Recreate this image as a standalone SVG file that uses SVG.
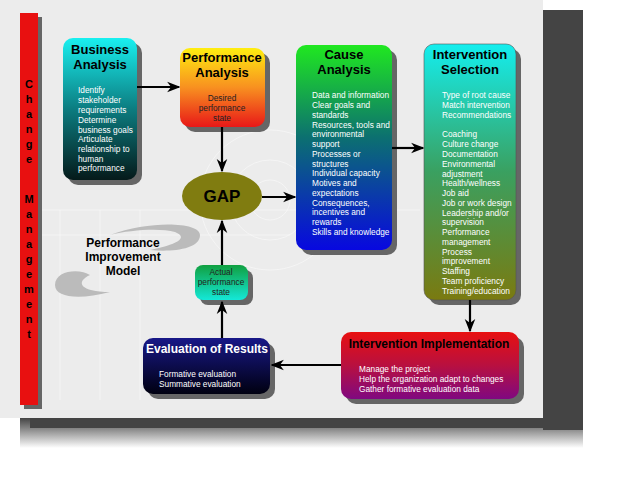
<svg xmlns="http://www.w3.org/2000/svg" width="622" height="480" viewBox="0 0 622 480">
<defs>
<linearGradient id="gBA" x1="0" y1="0" x2="0" y2="1"><stop offset="0" stop-color="#19f0f0"/><stop offset="0.5" stop-color="#0c7c80"/><stop offset="1" stop-color="#051a1a"/></linearGradient>
<linearGradient id="gPA" x1="0" y1="0" x2="0" y2="1"><stop offset="0" stop-color="#ffee10"/><stop offset="0.5" stop-color="#f89020"/><stop offset="1" stop-color="#e81818"/></linearGradient>
<linearGradient id="gCA" x1="0" y1="0" x2="0" y2="1"><stop offset="0" stop-color="#20e820"/><stop offset="0.45" stop-color="#0c7070"/><stop offset="1" stop-color="#0808e0"/></linearGradient>
<linearGradient id="gIS" x1="0" y1="0" x2="0" y2="1"><stop offset="0" stop-color="#14eeee"/><stop offset="0.5" stop-color="#3aa060"/><stop offset="1" stop-color="#7a7a10"/></linearGradient>
<linearGradient id="gII" x1="0" y1="0" x2="0" y2="1"><stop offset="0" stop-color="#e81010"/><stop offset="0.5" stop-color="#b81040"/><stop offset="1" stop-color="#800880"/></linearGradient>
<linearGradient id="gER" x1="0" y1="0" x2="0" y2="1"><stop offset="0" stop-color="#181888"/><stop offset="1" stop-color="#000010"/></linearGradient>
<linearGradient id="gAP" x1="0" y1="0" x2="0" y2="1"><stop offset="0" stop-color="#10a040"/><stop offset="1" stop-color="#14e8d8"/></linearGradient>
<linearGradient id="gShB" x1="0" y1="0" x2="0" y2="1"><stop offset="0" stop-color="#444"/><stop offset="1" stop-color="#444" stop-opacity="0"/></linearGradient>
<marker id="ar" viewBox="0 0 10 10" refX="9" refY="5" markerWidth="6" markerHeight="6" orient="auto"><path d="M0,1 L10,5 L0,9 L3,5 z" fill="#000"/></marker>
</defs>
<style>
.t{font-family:"Liberation Sans",Arial,sans-serif;font-weight:bold;fill:#000;text-anchor:middle}
.b{font-family:"Liberation Sans",Arial,sans-serif;font-size:8.3px;fill:#fff}
.bd{font-family:"Liberation Sans",Arial,sans-serif;font-size:8.3px;fill:#222;text-anchor:middle}
.sh{fill:#666}
.c{stroke:#000;stroke-width:2.2;fill:none;marker-end:url(#ar)}
.cm{font-family:"Liberation Sans",Arial,sans-serif;font-weight:bold;font-size:11px;fill:#000;text-anchor:middle}
</style>
<rect width="622" height="480" fill="#fff"/>
<rect x="543" y="10" width="40" height="420" fill="#444"/>
<rect x="20" y="418" width="563" height="30" fill="url(#gShB)"/>
<rect x="30" y="418" width="553" height="10" fill="#444"/>
<rect x="0" y="0" width="543" height="418" fill="#ececec"/>
<g stroke="#fff" stroke-width="0.8" fill="none" opacity="0.6">
<circle cx="270" cy="200" r="70"/><circle cx="270" cy="200" r="40"/><circle cx="270" cy="200" r="20"/>
<path d="M40,210 H420 M40,235 H290 M60,210 V400 M100,210 V400 M140,210 V400"/>
</g>
<g id="change-management">
<rect x="24" y="17" width="18" height="392" class="sh"/>
<rect x="20" y="13" width="18" height="392" fill="#e81010"/>
<text class="cm"><tspan x="29" y="88">C</tspan><tspan x="29" y="103">h</tspan><tspan x="29" y="118">a</tspan><tspan x="29" y="133">n</tspan><tspan x="29" y="148">g</tspan><tspan x="29" y="163">e</tspan><tspan x="29" y="203">M</tspan><tspan x="29" y="218">a</tspan><tspan x="29" y="233">n</tspan><tspan x="29" y="248">a</tspan><tspan x="29" y="263">g</tspan><tspan x="29" y="278">e</tspan><tspan x="29" y="293">m</tspan><tspan x="29" y="308">e</tspan><tspan x="29" y="323">n</tspan><tspan x="29" y="338">t</tspan></text>
</g>
<g id="model-label">
<path d="M110,235 C150,220 200,222 200,235 C200,250 170,252 150,250 C175,245 190,238 175,232 C160,228 130,230 110,235 z" fill="#bbb"/>
<path d="M55,285 C55,270 80,268 90,275 C75,282 80,292 110,292 C80,300 55,298 55,285 z" fill="#bbb"/>
<text class="t" font-size="12"><tspan x="123" y="247">Performance</tspan><tspan x="123" y="261">Improvement</tspan><tspan x="123" y="275">Model</tspan></text>
</g>
<g id="business-analysis">
<rect x="68" y="43" width="74" height="142" rx="10" class="sh"/>
<rect x="63" y="38" width="74" height="142" rx="10" fill="url(#gBA)"/>
<text class="t" font-size="13"><tspan x="100" y="54">Business</tspan><tspan x="100" y="69">Analysis</tspan></text>
<text class="b"><tspan x="78" y="93">Identify</tspan><tspan x="78" y="103">stakeholder</tspan><tspan x="78" y="113">requirements</tspan><tspan x="78" y="123">Determine</tspan><tspan x="78" y="133">business goals</tspan><tspan x="78" y="142">Articulate</tspan><tspan x="78" y="152">relationship to</tspan><tspan x="78" y="162">human</tspan><tspan x="78" y="171">performance</tspan></text>
</g>
<g id="performance-analysis">
<rect x="185" y="53" width="85" height="79" rx="10" class="sh"/>
<rect x="180" y="48" width="85" height="79" rx="10" fill="url(#gPA)"/>
<text class="t" font-size="13"><tspan x="222" y="62">Performance</tspan><tspan x="222" y="77">Analysis</tspan></text>
<text class="bd"><tspan x="222" y="101">Desired</tspan><tspan x="222" y="111">performance</tspan><tspan x="222" y="121">state</tspan></text>
</g>
<g id="gap">
<ellipse cx="222" cy="196" rx="40" ry="24" fill="#807c10"/>
<text class="t" font-size="17" x="222" y="202">GAP</text>
</g>
<g id="cause-analysis">
<rect x="301" y="50" width="96" height="205" rx="10" class="sh"/>
<rect x="296" y="45" width="96" height="205" rx="10" fill="url(#gCA)"/>
<text class="t" font-size="13"><tspan x="344" y="59">Cause</tspan><tspan x="344" y="74">Analysis</tspan></text>
<text class="b"><tspan x="312" y="98">Data and information</tspan><tspan x="312" y="108">Clear goals and</tspan><tspan x="312" y="118">standards</tspan><tspan x="312" y="128">Resources, tools and</tspan><tspan x="312" y="137">environmental</tspan><tspan x="312" y="147">support</tspan><tspan x="312" y="157">Processes or</tspan><tspan x="312" y="167">structures</tspan><tspan x="312" y="176">Individual capacity</tspan><tspan x="312" y="186">Motives and</tspan><tspan x="312" y="196">expectations</tspan><tspan x="312" y="206">Consequences,</tspan><tspan x="312" y="215">incentives and</tspan><tspan x="312" y="225">rewards</tspan><tspan x="312" y="235">Skills and knowledge</tspan></text>
</g>
<g id="intervention-selection">
<rect x="429" y="49" width="92" height="256" rx="10" class="sh"/>
<rect x="424" y="44" width="92" height="256" rx="10" fill="url(#gIS)" stroke="#555" stroke-width="0.6"/>
<text class="t" font-size="13"><tspan x="470" y="59">Intervention</tspan><tspan x="470" y="74">Selection</tspan></text>
<text class="b"><tspan x="442" y="98">Type of root cause</tspan><tspan x="442" y="108">Match intervention</tspan><tspan x="442" y="118">Recommendations</tspan><tspan x="442" y="137">Coaching</tspan><tspan x="442" y="147">Culture change</tspan><tspan x="442" y="157">Documentation</tspan><tspan x="442" y="167">Environmental</tspan><tspan x="442" y="177">adjustment</tspan><tspan x="442" y="186">Health/wellness</tspan><tspan x="442" y="196">Job aid</tspan><tspan x="442" y="206">Job or work design</tspan><tspan x="442" y="216">Leadership and/or</tspan><tspan x="442" y="225">supervision</tspan><tspan x="442" y="235">Performance</tspan><tspan x="442" y="245">management</tspan><tspan x="442" y="255">Process</tspan><tspan x="442" y="264">improvement</tspan><tspan x="442" y="274">Staffing</tspan><tspan x="442" y="284">Team proficiency</tspan><tspan x="442" y="294">Training/education</tspan></text>
</g>
<g id="intervention-implementation">
<rect x="346" y="337" width="178" height="67" rx="10" class="sh"/>
<rect x="341" y="332" width="178" height="67" rx="10" fill="url(#gII)"/>
<text class="t" font-size="12" x="429" y="348">Intervention Implementation</text>
<text class="b"><tspan x="359" y="372">Manage the project</tspan><tspan x="359" y="382">Help the organization adapt to changes</tspan><tspan x="359" y="392">Gather formative evaluation data</tspan></text>
</g>
<g id="evaluation-of-results">
<rect x="148" y="343" width="127" height="56" rx="10" class="sh"/>
<rect x="143" y="338" width="127" height="56" rx="10" fill="url(#gER)"/>
<text class="t" font-size="12" x="207" y="353" style="fill:#fff">Evaluation of Results</text>
<text class="b"><tspan x="159" y="377">Formative evaluation</tspan><tspan x="159" y="387">Summative evaluation</tspan></text>
</g>
<g id="actual-performance-state">
<rect x="200" y="270" width="53" height="35" rx="8" class="sh"/>
<rect x="195" y="265" width="53" height="35" rx="8" fill="url(#gAP)"/>
<text class="bd"><tspan x="221" y="275">Actual</tspan><tspan x="221" y="285">performance</tspan><tspan x="221" y="295">state</tspan></text>
</g>
<g id="connectors">
<path class="c" d="M137,87 H179"/>
<path class="c" d="M222,127 V171"/>
<path class="c" d="M262,197 H295"/>
<path class="c" d="M392,148 H423"/>
<path class="c" d="M470,300 V331"/>
<path class="c" d="M341,365 H272"/>
<path class="c" d="M222,338 V302"/>
<path class="c" d="M222,265 V221"/>
</g>
</svg>
